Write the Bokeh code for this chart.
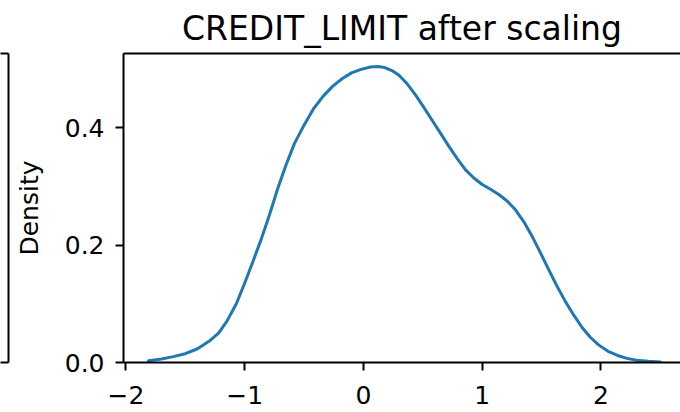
from bokeh.plotting import figure
from bokeh.models import Range1d, FixedTicker, LinearAxis
from bokeh.layouts import row
from bokeh.embed import file_html
from bokeh.resources import INLINE

# KDE curve
kde_x = [-1.81, -1.70, -1.60, -1.50, -1.40, -1.30, -1.22, -1.15, -1.07, -1.00,
         -0.93, -0.86, -0.79, -0.72, -0.65, -0.58, -0.50, -0.42, -0.34, -0.26,
         -0.18, -0.10, -0.02, 0.06, 0.12, 0.18, 0.24, 0.30, 0.37, 0.44,
         0.51, 0.58, 0.65, 0.72, 0.79, 0.86, 0.93, 1.00, 1.07, 1.14,
         1.21, 1.28, 1.35, 1.42, 1.49, 1.56, 1.63, 1.70, 1.77, 1.84,
         1.91, 1.98, 2.06, 2.14, 2.22, 2.30, 2.40, 2.50]
kde_y = [0.003, 0.006, 0.010, 0.015, 0.023, 0.036, 0.050, 0.070, 0.100, 0.135,
         0.172, 0.210, 0.252, 0.297, 0.337, 0.373, 0.404, 0.432, 0.453, 0.470,
         0.483, 0.493, 0.499, 0.503, 0.504, 0.502, 0.497, 0.489, 0.474, 0.455,
         0.434, 0.412, 0.390, 0.368, 0.347, 0.328, 0.314, 0.303, 0.295, 0.286,
         0.275, 0.260, 0.240, 0.215, 0.187, 0.158, 0.130, 0.104, 0.081, 0.060,
         0.043, 0.030, 0.019, 0.012, 0.007, 0.004, 0.002, 0.001]

x_ticks = [-2, -1, 0, 1, 2]
x_tick_labels = ["\u22122", "\u22121", "0", "1", "2"]
y_ticks = [0.0, 0.2, 0.4]
y_tick_labels = ["0.0", "0.2", "0.4"]

title_text = "CREDIT_LIMIT after scaling"
y_label = "Density"

FONT = "DejaVu Sans"


def frame_axis():
    return LinearAxis(ticker=FixedTicker(ticks=[]), axis_line_width=2,
                      axis_line_color="black", major_tick_line_color=None,
                      minor_tick_line_color=None, major_tick_out=0, major_tick_in=0,
                      major_label_standoff=0, major_label_text_font_size="0px")


# partial frame of the neighbouring subplot on the left
p0 = figure(width=11, height=412, x_range=Range1d(0, 1), y_range=Range1d(0, 1),
            x_axis_location=None, y_axis_location=None, toolbar_location=None,
            output_backend="svg", min_border_left=0, min_border_right=3,
            min_border_top=53, min_border_bottom=50, outline_line_color=None)
p0.grid.visible = False
p0.border_fill_color = "white"
for loc in ["above", "below", "right"]:
    p0.add_layout(frame_axis(), loc)

p = figure(width=669, height=412, x_range=Range1d(-2.02, 2.67), y_range=Range1d(0, 0.526),
           toolbar_location=None, output_backend="svg",
           min_border_left=110, min_border_right=0, min_border_top=53, min_border_bottom=50,
           outline_line_color=None, title=title_text)
p.grid.visible = False
p.background_fill_color = "white"
p.border_fill_color = "white"

p.title.text_font = FONT
p.title.text_font_size = "33px"
p.title.text_font_style = "normal"
p.title.text_color = "black"
p.title.align = "center"
p.title.standoff = 12

p.line(kde_x, kde_y, line_color="#1f77b4", line_width=3, line_join="round", line_cap="round")

for ax in [p.xaxis[0], p.yaxis[0]]:
    ax.axis_line_width = 2
    ax.axis_line_color = "black"
    ax.major_tick_line_width = 2
    ax.major_tick_line_color = "black"
    ax.major_tick_out = 8
    ax.major_tick_in = 0
    ax.minor_tick_line_color = None
    ax.major_label_text_font = FONT
    ax.major_label_text_font_size = "25px"
    ax.major_label_text_color = "black"

p.xaxis[0].major_label_standoff = 15
p.yaxis[0].major_label_standoff = 11

p.xaxis[0].ticker = FixedTicker(ticks=x_ticks)
p.xaxis[0].major_label_overrides = {t: l for t, l in zip(x_ticks, x_tick_labels)}
p.yaxis[0].ticker = FixedTicker(ticks=y_ticks)
p.yaxis[0].major_label_overrides = {t: l for t, l in zip(y_ticks, y_tick_labels)}

p.yaxis[0].axis_label = y_label
p.yaxis[0].axis_label_text_font = FONT
p.yaxis[0].axis_label_text_font_size = "25px"
p.yaxis[0].axis_label_text_font_style = "normal"
p.yaxis[0].axis_label_text_color = "black"
p.yaxis[0].axis_label_standoff = 18

p.add_layout(frame_axis(), "above")

layout = row(p0, p, spacing=0)
open("out.html", "w").write(file_html(layout, INLINE))
